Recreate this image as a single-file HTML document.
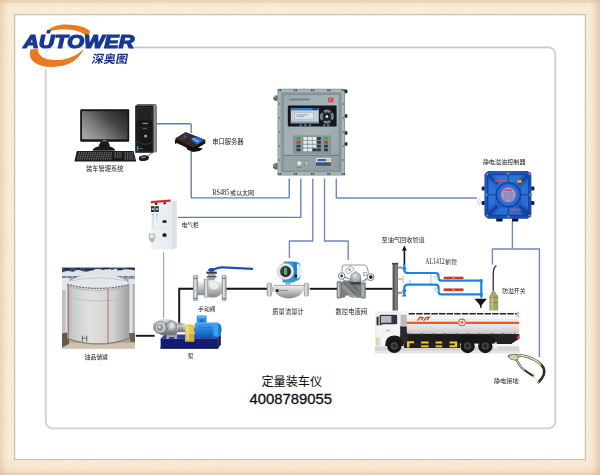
<!DOCTYPE html>
<html><head><meta charset="utf-8"><title>diagram</title><style>
html,body{margin:0;padding:0;background:#fff}
body{width:600px;height:475px;overflow:hidden;font-family:"Liberation Sans",sans-serif}
svg{display:block}
</style></head><body>
<svg width="600" height="475" viewBox="0 0 600 475">
<defs>
<linearGradient id="gL" x1="0" x2="1" y1="0" y2="0"><stop offset="0" stop-color="#dbb288" stop-opacity=".48"/><stop offset=".3" stop-color="#dbb288" stop-opacity=".2"/><stop offset=".62" stop-color="#dbb288" stop-opacity="0"/><stop offset="1" stop-color="#dbb288" stop-opacity=".07"/></linearGradient>
<linearGradient id="gR" x1="0" x2="1" y1="0" y2="0"><stop offset="0" stop-color="#dbb288" stop-opacity=".08"/><stop offset=".25" stop-color="#dbb288" stop-opacity="0"/><stop offset=".55" stop-color="#dbb288" stop-opacity=".16"/><stop offset="1" stop-color="#dbb288" stop-opacity=".62"/></linearGradient>
<linearGradient id="gT" x1="0" x2="0" y1="0" y2="1"><stop offset="0" stop-color="#dbb288" stop-opacity=".34"/><stop offset=".1" stop-color="#dbb288" stop-opacity=".5"/><stop offset=".24" stop-color="#dbb288" stop-opacity=".13"/><stop offset=".55" stop-color="#dbb288" stop-opacity="0"/><stop offset="1" stop-color="#dbb288" stop-opacity=".07"/></linearGradient>
<linearGradient id="gB" x1="0" x2="0" y1="0" y2="1"><stop offset="0" stop-color="#dbb288" stop-opacity=".04"/><stop offset=".4" stop-color="#dbb288" stop-opacity=".07"/><stop offset=".7" stop-color="#dbb288" stop-opacity=".2"/><stop offset="1" stop-color="#dbb288" stop-opacity=".58"/></linearGradient>
<filter id="nz" x="0" y="0" width="100%" height="100%"><feTurbulence type="fractalNoise" baseFrequency=".55 .9" numOctaves="2" seed="7" result="t"/><feColorMatrix type="matrix" values="0 0 0 0 .78  0 0 0 0 .62  0 0 0 0 .40  1.7 1.0 0 0 -1.14"/></filter>
<filter id="b3" x="-5%" y="-5%" width="110%" height="110%"><feGaussianBlur stdDeviation="0.3"/></filter>
<filter id="b4" x="-5%" y="-5%" width="110%" height="110%"><feGaussianBlur stdDeviation="0.45"/></filter>
<filter id="b6" x="-5%" y="-5%" width="110%" height="110%"><feGaussianBlur stdDeviation="0.6"/></filter>
<filter id="b10" x="-10%" y="-10%" width="120%" height="120%"><feGaussianBlur stdDeviation="1"/></filter>
</defs>
<rect width="600" height="475" fill="#faf0de"/>
<rect x="0" y="0" width="600" height="15" fill="url(#gT)"/>
<rect x="0" y="459.5" width="600" height="15.5" fill="url(#gB)"/>
<rect x="0" y="0" width="15" height="475" fill="url(#gL)"/>
<rect x="585" y="0" width="15" height="475" fill="url(#gR)"/>
<rect width="600" height="475" filter="url(#nz)" opacity=".36"/>
<rect x="14.2" y="14.2" width="571.6" height="445.9" fill="#c3b9a6"/>
<rect x="15.2" y="15.2" width="569.6" height="443.9" fill="#fff"/>
<rect x="46" y="47.6" width="509" height="380.4" rx="6.5" fill="none" stroke="#e4e4e4" stroke-width="3" filter="url(#b6)"/>
<rect x="46" y="47.6" width="509" height="380.4" rx="6.5" fill="#fff" stroke="#c8c8c8" stroke-width="1.2"/>
<rect x="40" y="40" width="94" height="30" fill="#fff" opacity=".55"/>
<g filter="url(#b3)">
<path d="M45.5,32.8 C50,27 58,24.5 66,24.5 C76,24.7 85.5,26.8 89.8,30.8 C90.2,33.4 88.8,35 86.4,36 C83,32.2 76,29.8 67.5,29.4 C59,29 51,30.2 45.5,32.8Z" fill="#e87a20"/>
<path d="M30.8,49.2 C28.4,54 29.8,59.6 36,63.4 C43,67.4 54,67.8 63.5,65.6 C72.5,63.4 80.6,57 83.8,48.8 C79.5,53.8 72,57.8 63.5,59.4 C54,61 46,59.8 42,56.8 C38.8,54.4 37.8,52 38.2,49.2Z" fill="#e87a20"/>
<g transform="translate(23.2,48.2) scale(1.2,1)"><text x="0" y="0" font-family="Liberation Sans, sans-serif" font-weight="bold" font-style="italic" font-size="18" fill="#1a3894" stroke="#1a3894" stroke-width="1.25" stroke-linejoin="miter" letter-spacing="0">AUTOWER</text></g>
<polygon points="47.2,30 50.9,30 50.1,33.4 46.4,33.4" fill="#1a3894"/>
<text x="0" y="0" font-family="'Liberation Sans','Noto Sans CJK SC',sans-serif" font-weight="bold" font-size="11.4" fill="#1a3292" textLength="34.3" lengthAdjust="spacingAndGlyphs" transform="translate(91.2,63.2) skewX(-10) scale(1.05,1)">深奥图</text>
</g>
<g fill="none" stroke="#5f7dba" stroke-width="1.35" stroke-linejoin="round" filter="url(#b3)">
<path d="M155.5,123.7 H190.2 Q191.2,123.7 191.2,124.7 V133"/>
<path d="M191.2,150.5 V197.8 H289.2 V178.6"/>
<path d="M178,217.4 H300.8 V178.6"/>
</g>
<g fill="none" stroke="#7488c0" stroke-width="1.4" stroke-linejoin="round" filter="url(#b3)">
<path d="M312.8,178.6 V241 H289.4 V258"/>
<path d="M324.5,178.6 V241 H348.2 V260"/>
<path d="M336.3,178.6 V198 H477"/>
<path d="M512.4,221 V249"/>
<path d="M492.4,264.5 V249 H539.4 V357"/>
<path d="M163.6,252.2 V318.5" stroke="#8ea2d4" stroke-width="1.1"/>
</g>
<g fill="none" stroke="#151515" stroke-width="1.9" filter="url(#b3)">
<path d="M135.8,335.8 H154.6"/>
<path d="M179.2,323.4 V288.8 H193.6"/>
<path d="M226.2,288.8 H267"/>
<path d="M309.8,288.8 H337"/>
<path d="M365,288.8 H392.5"/>
</g>
<defs>
<linearGradient id="scr" x1="0" y1=".75" x2="1" y2=".1"><stop offset="0" stop-color="#a2a2a2"/><stop offset=".3" stop-color="#7c7c7c"/><stop offset=".65" stop-color="#444"/><stop offset="1" stop-color="#262626"/></linearGradient>
<linearGradient id="twr" x1="0" y1="0" x2="1" y2="0"><stop offset="0" stop-color="#1c1c1c"/><stop offset=".78" stop-color="#131313"/><stop offset=".84" stop-color="#4a4a4a"/><stop offset=".9" stop-color="#a0a0a0"/><stop offset="1" stop-color="#5c5c5c"/></linearGradient>
<linearGradient id="tankb" x1="0" y1="0" x2="1" y2="0"><stop offset="0" stop-color="#aeb0b0"/><stop offset=".1" stop-color="#cccecd"/><stop offset=".38" stop-color="#e0e1df"/><stop offset=".75" stop-color="#cfd0cf"/><stop offset="1" stop-color="#9c9e9f"/></linearGradient>
<linearGradient id="sky" x1="0" y1="0" x2="0" y2="1"><stop offset="0" stop-color="#6f83a4"/><stop offset=".5" stop-color="#a9b4c2"/><stop offset="1" stop-color="#c9c6bd"/></linearGradient>
<linearGradient id="silv" x1="0" y1="0" x2="0" y2="1"><stop offset="0" stop-color="#f2f2f2"/><stop offset=".45" stop-color="#c4c6c8"/><stop offset="1" stop-color="#84888c"/></linearGradient>
<linearGradient id="silvh" x1="0" y1="0" x2="1" y2="0"><stop offset="0" stop-color="#8a8e92"/><stop offset=".4" stop-color="#eeeeee"/><stop offset="1" stop-color="#8a8e92"/></linearGradient>
<linearGradient id="pmp" x1="0" y1="0" x2="0" y2="1"><stop offset="0" stop-color="#e2e3e4"/><stop offset=".45" stop-color="#aeb1b4"/><stop offset="1" stop-color="#6c7074"/></linearGradient>
<linearGradient id="mot" x1="0" y1="0" x2="0" y2="1"><stop offset="0" stop-color="#52aef4"/><stop offset=".5" stop-color="#2586e0"/><stop offset="1" stop-color="#155cb0"/></linearGradient>
<linearGradient id="ctl" x1="0" y1="0" x2="1" y2="1"><stop offset="0" stop-color="#9aa9ad"/><stop offset=".5" stop-color="#a6b4b7"/><stop offset="1" stop-color="#93a2a6"/></linearGradient>
<radialGradient id="esc" cx=".45" cy=".4" r=".75"><stop offset="0" stop-color="#2f74dc"/><stop offset=".6" stop-color="#1b5ac4"/><stop offset="1" stop-color="#1546a6"/></radialGradient>
<linearGradient id="tk" x1="0" y1="0" x2="0" y2="1"><stop offset="0" stop-color="#fafafa"/><stop offset=".55" stop-color="#f0f0f0"/><stop offset="1" stop-color="#c9c9c9"/></linearGradient>
<linearGradient id="pole" x1="0" y1="0" x2="1" y2="0"><stop offset="0" stop-color="#4a4a4a"/><stop offset=".3" stop-color="#5c5c5c"/><stop offset=".7" stop-color="#8e8e8e"/><stop offset="1" stop-color="#3a3a3a"/></linearGradient>
<linearGradient id="cab" x1="0" y1="0" x2="1" y2="0"><stop offset="0" stop-color="#eef3f5"/><stop offset="1" stop-color="#e6ecee"/></linearGradient>
</defs>
<g filter="url(#b3)">
<polygon points="135.4,105.8 137.4,104 156,104 156.8,105.8" fill="#6a6a6a"/>
<rect x="135.2" y="105.6" width="21.6" height="47" rx="1" fill="url(#twr)"/>
<path d="M137,120.6 V109.6 Q137,107.4 139.2,107.4 H150 Q152,107.4 152,109.6 V120.6" fill="#242424" stroke="#4a4a4a" stroke-width=".5"/>
<rect x="142.6" y="122.8" width="5.4" height="1.3" fill="#8a8a8a"/>
<rect x="139.4" y="127.4" width="10.6" height="2" rx=".6" fill="#050505" stroke="#4c4c4c" stroke-width=".4"/>
<rect x="142.4" y="128" width="4.6" height=".8" fill="#6c6c6c"/>
<circle cx="145.6" cy="136" r="1.6" fill="#9a9a9a"/>
<path d="M136.6,141 Q145,147.4 153,141.6" stroke="#3c3c3c" stroke-width=".9" fill="none"/>
<rect x="136.8" y="146" width="1.6" height="4.6" fill="#2f8fd0"/>
<rect x="139.4" y="148" width="3.4" height="1" fill="#6c6c6c"/>
<rect x="135.2" y="151.6" width="18" height="1.2" fill="#3a3a3a"/>
<rect x="80.2" y="109.3" width="49" height="32.5" rx="1" fill="#151515"/>
<rect x="82" y="111.1" width="45.6" height="28.2" fill="url(#scr)"/>
<polygon points="100.8,141.6 108.2,141.6 110.2,146.6 98.4,146.6" fill="#1a1a1a"/>
<path d="M92.4,150.8 Q93,146.4 104,145.6 Q114.6,146.4 115.2,150.8Z" fill="#1a1a1a"/>
<rect x="102.8" y="140" width="3.4" height=".9" fill="#8a8a8a"/>
<polygon points="76.8,151 133.6,151 136.2,161.5 74.4,161.5" fill="#1a1a1a"/>
<g stroke="#767676" stroke-width="1.1" stroke-dasharray="1.4 .9"><path d="M78.6,152.9 H112"/><path d="M78.2,154.9 H112"/><path d="M77.6,156.9 H112"/><path d="M77,158.9 H112"/><path d="M114.6,152.9 H122"/><path d="M114.6,154.9 H122"/><path d="M114.6,156.9 H122"/><path d="M124.6,152.9 H133.2"/><path d="M124.6,154.9 H133.8"/><path d="M124.6,156.9 H134.2"/><path d="M124.6,158.9 H134.8"/></g>
<path d="M148,155.6 q3,-2 5,-3" stroke="#333" stroke-width=".6" fill="none"/>
<ellipse cx="143.9" cy="158.1" rx="5.1" ry="2.8" fill="#151515" transform="rotate(-6 143.9 158.1)"/>
<ellipse cx="143.4" cy="157.4" rx="3" ry="1.1" fill="#6a6a6a" transform="rotate(-6 143.4 157.4)"/>
</g>
<g filter="url(#b3)">
<polygon points="175.4,138.4 185.6,132.3 205.3,140 205.3,143.4 193,150.8 175.6,142.6" fill="#1d1311"/>
<polygon points="186.4,145.2 203,148.6 199.4,151 193,152 187,149.4" fill="#151010"/>
<polygon points="175.4,138.4 185.6,132.3 205.3,140 193,147.4" fill="#3a2826"/>
<polygon points="177.4,138.4 185.6,133.5 191,135.6 182.6,140.6" fill="#46302e"/>
<polygon points="190.6,139.2 196.9,136.3 203.9,139.9 197,144.7" fill="#2468cc"/>
<polygon points="191.6,138.6 193.4,137.8 199.6,141.6 198,142.6" fill="#7cb4ee"/>
<circle cx="185" cy="136.6" r="1.5" fill="#2454c4"/>
<polygon points="174.8,140.6 176.2,140 176.6,143.6 175.2,144" fill="#111"/>
</g>
<g filter="url(#b3)">
<rect x="277.5" y="88.8" width="67.6" height="86.6" rx="1.2" fill="#7f8f93"/>
<rect x="278.3" y="89.4" width="66" height="85.4" rx="1" fill="#a9b7b9"/>
<rect x="280.6" y="92" width="61.4" height="80.4" fill="#8b9b9f"/>
<rect x="283.2" y="94.6" width="56" height="76.2" fill="url(#ctl)" stroke="#74848a" stroke-width=".7"/>
<rect x="278.1" y="89.6" width="1.2" height="1.5" fill="#2f393b"/><rect x="279.90000000000003" y="89.6" width="1.2" height="1.5" fill="#2f393b"/>
<rect x="278.1" y="173.2" width="1.2" height="1.5" fill="#2f393b"/><rect x="279.90000000000003" y="173.2" width="1.2" height="1.5" fill="#2f393b"/>
<rect x="293.9" y="89.6" width="1.2" height="1.5" fill="#2f393b"/><rect x="295.7" y="89.6" width="1.2" height="1.5" fill="#2f393b"/>
<rect x="293.9" y="173.2" width="1.2" height="1.5" fill="#2f393b"/><rect x="295.7" y="173.2" width="1.2" height="1.5" fill="#2f393b"/>
<rect x="311.1" y="89.6" width="1.2" height="1.5" fill="#2f393b"/><rect x="312.90000000000003" y="89.6" width="1.2" height="1.5" fill="#2f393b"/>
<rect x="311.1" y="173.2" width="1.2" height="1.5" fill="#2f393b"/><rect x="312.90000000000003" y="173.2" width="1.2" height="1.5" fill="#2f393b"/>
<rect x="327.3" y="89.6" width="1.2" height="1.5" fill="#2f393b"/><rect x="329.1" y="89.6" width="1.2" height="1.5" fill="#2f393b"/>
<rect x="327.3" y="173.2" width="1.2" height="1.5" fill="#2f393b"/><rect x="329.1" y="173.2" width="1.2" height="1.5" fill="#2f393b"/>
<rect x="341.9" y="89.6" width="1.2" height="1.5" fill="#2f393b"/><rect x="343.7" y="89.6" width="1.2" height="1.5" fill="#2f393b"/>
<rect x="341.9" y="173.2" width="1.2" height="1.5" fill="#2f393b"/><rect x="343.7" y="173.2" width="1.2" height="1.5" fill="#2f393b"/>
<circle cx="279.4" cy="104" r=".7" fill="#4c585b"/><circle cx="343.4" cy="104" r=".7" fill="#4c585b"/>
<circle cx="279.4" cy="118" r=".7" fill="#4c585b"/><circle cx="343.4" cy="118" r=".7" fill="#4c585b"/>
<circle cx="279.4" cy="132" r=".7" fill="#4c585b"/><circle cx="343.4" cy="132" r=".7" fill="#4c585b"/>
<circle cx="279.4" cy="146" r=".7" fill="#4c585b"/><circle cx="343.4" cy="146" r=".7" fill="#4c585b"/>
<circle cx="279.4" cy="160" r=".7" fill="#4c585b"/><circle cx="343.4" cy="160" r=".7" fill="#4c585b"/>
<path d="M277.6,95.4 h-2.6 l-1.6,1.6 v2.6 l1.6,1.2 h2.6Z" fill="#5d696c"/><path d="M273.6,96 l2.6,1.6" stroke="#d4dadb" stroke-width=".7"/>
<path d="M277.6,163.2 h-2.6 l-2,1.6 v3 l2,1.6 h2.6Z" fill="#5d696c"/><path d="M273,164.4 l3,2" stroke="#d4dadb" stroke-width=".7"/>
<rect x="344.8" y="89.60000000000001" width="2.6" height="3.6" rx=".8" fill="#242a2c"/>
<rect x="344.8" y="114.2" width="2.6" height="3.6" rx=".8" fill="#242a2c"/>
<rect x="344.8" y="131.2" width="2.6" height="3.6" rx=".8" fill="#242a2c"/>
<rect x="344.8" y="142.2" width="2.6" height="3.6" rx=".8" fill="#242a2c"/>
<rect x="289.4" y="98.6" width="20.6" height="1.7" fill="#64767e" opacity=".85"/>
<rect x="328.2" y="97.4" width="5.2" height="4.8" rx=".8" fill="#cc3a36"/><path d="M329.4,98.6 h1.8 M329.4,99.8 h1.4 M329.4,101 h1.8 M331.8,99.8 l1.2,1.4" stroke="#f4dcd8" stroke-width=".55"/>
<rect x="287.8" y="105.4" width="48.8" height="21.2" rx="1.2" fill="#15191d"/>
<rect x="290.8" y="108" width="28" height="15.2" fill="#c3d0d8"/>
<rect x="290.8" y="108" width="28" height="2.4" fill="#3b7ec6"/>
<rect x="312.4" y="108.4" width="5" height="1.6" fill="#27394a"/>
<rect x="294.6" y="112.6" width="18.6" height="6.4" fill="#dfe8ec" stroke="#8fa4b4" stroke-width=".4"/>
<rect x="296.4" y="114.4" width="12" height=".9" fill="#8397a8"/><rect x="296.4" y="116.2" width="8" height=".8" fill="#8397a8"/>
<rect x="290.8" y="121.2" width="28" height="2" fill="#8fa6ba"/>
<circle cx="326.9" cy="116.6" r="7" fill="#1e2428"/>
<circle cx="326.9" cy="116.6" r="5.6" fill="none" stroke="#74808a" stroke-width="2.6" stroke-dasharray="6.6 2.2" transform="rotate(-38 326.9 116.6)"/>
<circle cx="326.9" cy="116.6" r="1.3" fill="#eef2f4"/>
<rect x="299.6" y="124.6" width="2" height="1" fill="#c9d1d5"/>
<rect x="304.3" y="124.6" width="2" height="1" fill="#c9d1d5"/>
<rect x="309" y="124.6" width="2" height="1" fill="#c9d1d5"/>
<rect x="323.3" y="124.6" width="2" height="1" fill="#c9d1d5"/>
<rect x="327.2" y="124.6" width="2" height="1" fill="#c9d1d5"/>
<rect x="292.8" y="135.4" width="38.4" height="18.6" fill="#86969a"/>
<rect x="296.4" y="137.05" width="4" height="2.9" rx=".7" fill="#35ad52"/>
<rect x="303.3" y="137.05" width="4" height="2.9" rx=".7" fill="#e6ecee"/>
<rect x="308" y="137.05" width="4" height="2.9" rx=".7" fill="#e6ecee"/>
<rect x="312.5" y="137.05" width="4" height="2.9" rx=".7" fill="#e6ecee"/>
<rect x="316.9" y="137.05" width="4" height="2.9" rx=".7" fill="#333c3e"/>
<rect x="324" y="137.05" width="4" height="2.9" rx=".7" fill="#35ad52"/>
<rect x="296.4" y="140.85000000000002" width="4" height="2.9" rx=".7" fill="#d5382f"/>
<rect x="303.3" y="140.85000000000002" width="4" height="2.9" rx=".7" fill="#e6ecee"/>
<rect x="308" y="140.85000000000002" width="4" height="2.9" rx=".7" fill="#e6ecee"/>
<rect x="312.5" y="140.85000000000002" width="4" height="2.9" rx=".7" fill="#e6ecee"/>
<rect x="316.9" y="140.85000000000002" width="4" height="2.9" rx=".7" fill="#333c3e"/>
<rect x="324" y="140.85000000000002" width="4" height="2.9" rx=".7" fill="#d5382f"/>
<rect x="296.4" y="144.65" width="4" height="2.9" rx=".7" fill="#333c3e"/>
<rect x="303.3" y="144.65" width="4" height="2.9" rx=".7" fill="#e6ecee"/>
<rect x="308" y="144.65" width="4" height="2.9" rx=".7" fill="#e6ecee"/>
<rect x="312.5" y="144.65" width="4" height="2.9" rx=".7" fill="#e6ecee"/>
<rect x="316.9" y="144.65" width="4" height="2.9" rx=".7" fill="#333c3e"/>
<rect x="324" y="144.65" width="4" height="2.9" rx=".7" fill="#333c3e"/>
<rect x="296.4" y="148.45000000000002" width="4" height="2.9" rx=".7" fill="#333c3e"/>
<rect x="303.3" y="148.45000000000002" width="4" height="2.9" rx=".7" fill="#e6ecee"/>
<rect x="308" y="148.45000000000002" width="4" height="2.9" rx=".7" fill="#e6ecee"/>
<rect x="312.5" y="148.45000000000002" width="4" height="2.9" rx=".7" fill="#333c3e"/>
<rect x="316.9" y="148.45000000000002" width="4" height="2.9" rx=".7" fill="#333c3e"/>
<rect x="324" y="148.45000000000002" width="4" height="2.9" rx=".7" fill="#333c3e"/>
<rect x="283.4" y="155.4" width="55.6" height="15.2" fill="#8d9b9f" opacity=".6"/>
<path d="M283.2,155.3 H339.2" stroke="#66767a" stroke-width=".9"/>
<rect x="296.6" y="160.4" width="5.4" height="5.8" rx=".6" fill="#b7c1c3" stroke="#6f7c80" stroke-width=".4"/><rect x="298" y="162" width="2.6" height="2.6" fill="#eef1f2"/>
<rect x="304.8" y="160.8" width="4" height="5" fill="#a7b2b5" stroke="#75828a" stroke-width=".4"/>
<rect x="297" y="167.2" width="4.6" height=".7" fill="#b85048"/>
<rect x="316" y="158" width="14.8" height="4.2" fill="#dfe6ec"/><rect x="317.4" y="159" width="8.6" height="2.2" fill="#2a62bc"/><rect x="326.6" y="159" width="3" height="2.2" fill="#e8a030" opacity=".7"/>
<rect x="316" y="162.4" width="14.8" height="3.4" fill="#3f5476"/>
</g>
<g filter="url(#b4)">
<rect x="496.2" y="217.8" width="6.4" height="3.7" rx=".8" fill="#10182c"/><rect x="512" y="217.8" width="6.4" height="3.7" rx=".8" fill="#10182c"/>
<rect x="530.6" y="186.4" width="3.8" height="4" rx="1" fill="#18244a"/><rect x="530.6" y="201" width="3.8" height="4" rx="1" fill="#18244a"/>
<rect x="481.6" y="186.4" width="3.8" height="4" rx="1" fill="#18244a"/><rect x="481.6" y="201" width="3.8" height="4" rx="1" fill="#18244a"/>
<path d="M488,171 h39.8 l3.6,3.6 v40.6 l-3.6,3.6 h-39.8 l-3.6,-3.6 v-40.6Z" fill="url(#esc)"/>
<path d="M494,175.4 h28.6 l-6.4,6.6 h-15.8Z M494,214.4 h28.6 l-6.4,-6.6 h-15.8Z M488.6,180.6 v28.6 l6.6,-6.4 v-15.8Z M528,180.6 v28.6 l-6.6,-6.4 v-15.8Z" fill="#3a80e2" opacity=".55"/>
<rect x="487.6" y="174.2" width="41.4" height="41.4" rx="3.4" fill="none" stroke="#123c94" stroke-width="1"/>
<path d="M486,172.6 L497.4,184 M530.6,172.6 L519.2,184 M486,217.2 L497.4,205.8 M530.6,217.2 L519.2,205.8" stroke="#113a92" stroke-width="1.7"/>
<path d="M508.3,171.6 V182 M508.3,207.6 V218 M484.6,194.8 H495.6 M521,194.8 H532" stroke="#154298" stroke-width="1.1"/>
<circle cx="508.3" cy="194.8" r="12.4" fill="#1d55bc" stroke="#123c94" stroke-width="1"/>
<circle cx="508.3" cy="194.8" r="10" fill="#2a68d2" stroke="#5a94f0" stroke-width=".5"/>
<circle cx="508.3" cy="194.8" r="7.7" fill="#9c8cb8"/>
<circle cx="508.3" cy="194.8" r="6" fill="#b7aacc"/>
<path d="M503.6,193 h9.4 M503.4,195 h9.8 M503.6,197 h9.4 M504.6,199 h7.4" stroke="#5866b6" stroke-width="1.1"/>
<path d="M506,192 v7.6 M508.3,192 v7.6 M510.6,192 v7.6" stroke="#b7aacc" stroke-width=".5"/>
<rect x="504.6" y="189.6" width="7.4" height="1.7" fill="#c2505e"/>
<circle cx="487.4" cy="174.2" r="1.1" fill="#b48e78"/>
<circle cx="529.4" cy="174.2" r="1.1" fill="#b48e78"/>
<circle cx="487.4" cy="215.6" r="1.1" fill="#b48e78"/>
<circle cx="529.4" cy="215.6" r="1.1" fill="#b48e78"/>
<circle cx="508.3" cy="173.4" r="1.1" fill="#b48e78"/>
<circle cx="508.3" cy="216.4" r="1.1" fill="#b48e78"/>
<circle cx="486.4" cy="194.8" r="1.1" fill="#b48e78"/>
<circle cx="530.2" cy="194.8" r="1.1" fill="#b48e78"/>
<rect x="494.6" y="180" width="10.6" height="1.6" fill="#c4506c"/>
<rect x="510.2" y="208.8" width="10.4" height="1.6" fill="#c4506c"/>
<rect x="517.4" y="180" width="4.2" height="2.9" fill="#f2a21e"/>
<path d="M477.6,199.6 q1.6,2.2 0,4.4 M479.4,198.6 q2.4,3.2 0,6.4" stroke="#aeb6c2" stroke-width=".7" fill="none"/>
</g>
<g filter="url(#b3)">
<polygon points="172,201.4 176.8,200.2 176.8,247.4 172,249.6" fill="#dbe2e5"/>
<polygon points="151.2,202.6 172,201.2 172,249.6 151.2,249.6" fill="url(#cab)"/>
<polygon points="151,201 170.6,199.6 170.6,201.8 151,203.3" fill="#e42426"/>
<rect x="155" y="203" width="2.4" height="1.8" fill="#2a2226"/><rect x="163.4" y="202.4" width="2.6" height="1.8" fill="#2a2226"/>
<path d="M151.2,228 H172" stroke="#d5dcdf" stroke-width=".5"/>
<rect x="151" y="206.2" width="3.6" height="5.8" fill="#2c3036"/><rect x="155.2" y="206.2" width="3.6" height="5.8" fill="#2c3036"/>
<rect x="151.6" y="208.4" width="2.4" height="1.4" fill="#e4e4e4"/><rect x="155.8" y="208.4" width="2.4" height="1.4" fill="#e4e4e4"/>
<path d="M153,213 V227 M157,213 V222" stroke="#c2ccd6" stroke-width=".8"/>
<circle cx="153" cy="214.6" r=".7" fill="#6a9ae0"/><circle cx="157" cy="214.6" r=".7" fill="#6a9ae0"/>
<rect x="162.6" y="220.3" width="3.8" height="2.5" fill="#15171a"/>
<path d="M162.6,236.7 v-2.6 l1.9,-1 l1.9,1 v2.6Z" fill="#15171a"/>
<path d="M148.8,233.6 h5.6 l.8,1.6 v3.4 l-1.8,3.6 h-2.8 l-1.8,-3.6Z" fill="#b6babd"/>
<path d="M150,234.6 h3.6 v3 h-3.6Z" fill="#eef0f1"/>
</g>
<g filter="url(#b4)">
<clipPath id="tkc"><rect x="62" y="267.4" width="73" height="81"/></clipPath>
<g clip-path="url(#tkc)">
<rect x="62" y="267.4" width="73" height="81" fill="#c4c8cc"/>
<rect x="62" y="267.4" width="73" height="24" fill="#8e9aae"/>
<rect x="62" y="267.4" width="73" height="6.4" fill="#3c4a66"/>
<path d="M62,272.6 q5,-3 11,-.6 q4,-3.400000000000034 9,-1 q5,1.6 9,-.4 q6,-3 12,-.6 q5,-2.399999999999977 9,0 q5,-2.600000000000023 10,0 q5,-2 13,.6 v6 h-73Z" fill="#dfe4ea"/>
<path d="M64,269 h6 M76,268.4 h4 M85,269.6 h9 M102,268.4 h7 M117,269.6 h5 M127,268.6 h7" stroke="#1f2b46" stroke-width="1.5"/>
<path d="M62,276.8 h73" stroke="#56647e" stroke-width="1.3" stroke-dasharray="4 1.6"/>
<rect x="62" y="277.6" width="73" height="8" fill="#a4aebc" opacity=".7"/>
<rect x="62" y="278" width="7.6" height="59" fill="#e4e6e6"/>
<rect x="62" y="290" width="3.6" height="46" fill="#bcc0c4"/>
<rect x="128.4" y="279" width="6.6" height="60" fill="#e2e4e4"/>
<rect x="132.4" y="284" width="2.6" height="54" fill="#b4b8bc"/>
<rect x="62" y="333" width="73" height="16" fill="#b9a992"/>
<rect x="62" y="343" width="73" height="5.4" fill="#cfc2ae"/>
<path d="M62,333.6 l7,-1.600000000000023 v12 l-7,3.6Z" fill="#64584a"/>
<path d="M128.6,333 h6.4 v9 h-4.4Z" fill="#6c5e50"/>
<path d="M67.2,284.6 V338.4 Q98.3,349.4 129.4,338.4 V284.6Z" fill="url(#tankb)"/>
<path d="M67.2,284.8 Q72,276.6 90,274.6 Q98.3,273.8 107,274.6 Q125,276.6 129.4,284.8 Q98.3,292.8 67.2,284.8Z" fill="#e4e7ea"/>
<path d="M72,280.6 Q98.3,275 125,280.6" fill="none" stroke="#b7bcc2" stroke-width=".7"/>
<path d="M67.2,284.4 Q98.3,292.4 129.4,284.4" fill="none" stroke="#6f7478" stroke-width="1.2" stroke-dasharray="2.2 .8"/>
<path d="M67.2,286.6 Q98.3,294.6 129.4,286.6" fill="none" stroke="#a9adb0" stroke-width=".8"/>
<path d="M67.2,297.2 Q98.3,305 129.4,297.2" fill="none" stroke="#b4b6b4" stroke-width=".6"/>
<path d="M68.3,285.4 V339.6 M108,288.8 V344" stroke="#b0645c" stroke-width=".9"/>
<path d="M67.2,338.4 Q98.3,349.4 129.4,338.4" fill="none" stroke="#80786a" stroke-width="1.1"/>
<path d="M82.4,335.6 v6 M86.8,335.6 v6 M82.4,338.2 h4.4" stroke="#4c4c4c" stroke-width=".8"/>
</g></g>
<g filter="url(#b4)">
<polygon points="160.6,338.8 164.6,334.6 220.8,334.6 218.2,338.8" fill="#2c3aa2"/>
<rect x="160.6" y="338.6" width="57.6" height="10" fill="#171f70"/>
<polygon points="218.2,338.6 220.8,334.6 220.8,344.6 218.2,348.6" fill="#10174e"/>
<rect x="160.6" y="346.8" width="57.6" height="1.8" fill="#0d1446"/>
<path d="M166.4,334 h10.6 v5 h-2.6 v-2 h-5.4 v2 h-2.6Z" fill="#a9adb3"/>
<path d="M152.8,327 q-.4,-4.4 4,-6 l6,-2 q5,-1.2 9,1.2 l5,3 h8 v8.6 h-7 l-2,3.4 h-14.6 l-3,-2.4 q-5,-1 -5.4,-5.800000000000001Z" fill="url(#pmp)"/>
<ellipse cx="160.6" cy="327.4" rx="5.6" ry="6" fill="#c4c7ca" stroke="#74787c" stroke-width=".7"/>
<ellipse cx="160" cy="327.6" rx="3" ry="3.4" fill="#8e9398"/>
<ellipse cx="159.4" cy="326.8" rx="1.4" ry="1.6" fill="#d4d7da"/>
<ellipse cx="171.4" cy="326" rx="5" ry="5.2" fill="#b4b8bc" stroke="#6e7276" stroke-width=".7"/>
<ellipse cx="171.8" cy="325.4" rx="2.4" ry="2.6" fill="#dcdee0"/>
<path d="M165.6,322 l2,8 M156,333 h18" stroke="#6a6e72" stroke-width=".7"/>
<rect x="176.6" y="322.6" width="5" height="3" fill="#9ea2a6"/>
<rect x="177" y="325.6" width="8.6" height="6.6" fill="url(#pmp)"/>
<path d="M179.4,326.4 v5.4 M182,326.4 v5.4" stroke="#5c6064" stroke-width=".7"/>
<path d="M185,327 q0,-2.4 2.4,-2.4 h4.4 q2.4,0 2.4,2.4 v14.4 h-9.2Z" fill="#dccb4e"/>
<path d="M185,334 h9.2 v7.400000000000034 h-9.2Z" fill="#c4b03a"/>
<rect x="186.2" y="326" width="3" height="14" fill="#efe59a" opacity=".6"/>
<rect x="194" y="327.6" width="1.8" height="4.4" fill="#d8582a"/>
<rect x="196.8" y="315.4" width="9.8" height="8.4" rx=".8" fill="#2c8ee6"/>
<rect x="197.8" y="316.2" width="7.8" height="2" fill="#62b4f6"/>
<rect x="200.4" y="319.4" width="2.8" height="2.8" fill="#1a62b8"/>
<rect x="194.6" y="322.6" width="24.4" height="14.4" rx="2.4" fill="url(#mot)"/>
<path d="M198,325 h14 M198,327.4 h14 M198,329.8 h14 M198,332.2 h14 M198,334.6 h14" stroke="#1862b8" stroke-width=".6" opacity=".8"/>
<path d="M213.6,322.8 h4 q3.8,.6 3.8,7 t-3.8,7 h-4Z" fill="#3aa2f0"/>
<path d="M218.4,323.6 q3,1 3,6.2 t-3,6.2Z" fill="#1c74cc"/>
<rect x="197.6" y="336.4" width="4.4" height="2.6" fill="#1b5eb2"/><rect x="211" y="336.4" width="4.4" height="2.6" fill="#1b5eb2"/>
</g>
<g filter="url(#b3)">
<path d="M209.6,270.2 Q214,269.6 217,268.2 Q219.6,267.2 223,267.3 L252.2,268.8" fill="none" stroke="#224cb4" stroke-width="2.3" stroke-linecap="round"/>
<ellipse cx="211.4" cy="269.8" rx="3" ry="1.9" fill="#1e44a6"/>
<rect x="206.4" y="271.6" width="10.4" height="2.2" fill="#34383e"/>
<rect x="207.8" y="273.8" width="7.6" height="2.4" fill="#a6aab0"/>
<rect x="206.8" y="276" width="9.6" height="1.6" fill="#4c5056"/>
<rect x="208.4" y="277.6" width="6.4" height="3.4" fill="#9ca0a6"/>
<rect x="197.4" y="281.6" width="7.4" height="13.6" fill="url(#silv)"/>
<rect x="204.2" y="278.8" width="4.2" height="18.6" rx=".8" fill="url(#silvh)" stroke="#7c8186" stroke-width=".4"/>
<path d="M208.2,280.6 q7,-1.6 10.400000000000006,1 q3,1.8 3.6,3.4 v7.6 q-.6,1.6 -3.6,3.4 q-3.4,2.6 -10.4,1Z" fill="url(#silv)"/>
<ellipse cx="214" cy="286" rx="4.6" ry="3.4" fill="#f4f5f6" opacity=".8"/>
<rect x="193.4" y="275.2" width="4.2" height="25.6" rx="1" fill="url(#silvh)" stroke="#7f8488" stroke-width=".5"/>
<rect x="222" y="275.2" width="4.2" height="25.6" rx="1" fill="url(#silvh)" stroke="#7f8488" stroke-width=".5"/>
<path d="M194.2,278.4 h2.600000000000023 M194.2,298.6 h2.6 M222.8,278.4 h2.6 M222.8,298.6 h2.6" stroke="#4c5054" stroke-width=".9"/>
</g>
<g filter="url(#b3)">
<rect x="267" y="283" width="4.6" height="13.2" rx="1.4" fill="url(#silvh)" stroke="#8a8e92" stroke-width=".4"/>
<rect x="304.2" y="283" width="4.4" height="13.2" rx="1.4" fill="url(#silvh)" stroke="#8a8e92" stroke-width=".4"/>
<path d="M273.6,285.2 H304 L303.4,290 Q300,298.4 288.8,298.4 Q277.6,298.4 274.2,290Z" fill="url(#silv)"/>
<path d="M273.6,285.4 H304" stroke="#8c9094" stroke-width=".8"/>
<rect x="271.4" y="286.6" width="2.6" height="5.4" fill="#c2c5c8"/><rect x="303.6" y="286.6" width="1" height="5.4" fill="#c2c5c8"/>
<rect x="275.8" y="289.2" width="2.8" height="2.8" fill="#24282c"/><rect x="279.4" y="290" width="9" height="1" fill="#8e9296"/>
<rect x="285.4" y="281.6" width="5.4" height="4" fill="#b4b8bc"/>
<path d="M284,261.6 h9 q7,0 7.6,4 v11 q-.6,4 -5,4.400000000000034 l-2.6,1.6 h-10.4 v-3.6Z" fill="#2f9ada"/>
<path d="M296.8,263.4 q4.8,.6 4.8,7.600000000000023 t-4.8,7.6Z" fill="#e3eef6"/>
<path d="M293.4,262.4 h3.4 v16.4 h-3.4Z" fill="#1f82c4"/>
<rect x="294.6" y="274.6" width="2.6" height="2.6" fill="#20252a"/>
<circle cx="285.6" cy="271.5" r="8.3" fill="#eceef0" stroke="#9a9ea2" stroke-width=".5"/>
<circle cx="285.6" cy="271.5" r="6.4" fill="#c4c8cc"/>
<circle cx="285.6" cy="271.5" r="5.4" fill="#262b30"/>
<rect x="284" y="267.6" width="3.2" height="7.4" rx="1.2" fill="#54b25c"/>
<rect x="281.6" y="269" width="2" height="4.6" fill="#3c4a56"/>
</g>
<g filter="url(#b3)">
<path d="M342.2,272.6 V267 Q342.2,265 344.4,265 H364.4 Q366.4,265 367,267 L368.6,273" fill="none" stroke="#787c80" stroke-width=".8"/>
<path d="M345,281 Q342.4,279.4 342,278 M366.8,280 Q363,284.4 359,285.4 M349,296 q4,3 9,0" fill="none" stroke="#5f6367" stroke-width=".7"/>
<path d="M341,282.4 l3,-2 h6 l3.6,3 h5 l2.4,-1 v15.4 h-4.4 l-1.6,-2.4 h-9 l-1.6,2.4 h-3.4Z" fill="#7c7f82"/>
<path d="M344,283 l12,12 M349,281.4 l9.6,9.6" stroke="#4f5255" stroke-width="1"/>
<path d="M341.6,284.6 h3.4 l10,10.4 v2 h-4 l-9.4,-9.4Z" fill="#94979a" opacity=".8"/>
<rect x="337" y="281.4" width="4.2" height="16.8" rx=".8" fill="#8f9295" stroke="#55585b" stroke-width=".5"/>
<rect x="361.4" y="283" width="4" height="15.2" rx=".8" fill="#8f9295" stroke="#55585b" stroke-width=".5"/>
<rect x="338" y="283" width="1.4" height="13.6" fill="#c6c9cc"/><rect x="362.4" y="284.4" width="1.2" height="12.4" fill="#c6c9cc"/>
<path d="M350,281.6 l1,-7 l4.6,-3 l4.6,3 l1,7 l-5.6,2.6Z" fill="#9a9da0" stroke="#55585b" stroke-width=".5"/>
<circle cx="355.6" cy="276.6" r="4.6" fill="#b6b9bc"/><circle cx="355" cy="275.8" r="2.2" fill="#d9dbdd"/>
<path d="M349.6,282 h12 l-1.6,2.4 h-8.8Z" fill="#3c3f42"/>
<rect x="-3.8" y="-2.6" width="7.6" height="5.2" rx=".6" fill="#f0f1f2" stroke="#6c7074" stroke-width=".5" transform="translate(349.6,269.8) rotate(-40)"/>
<rect x="-1.2" y="-1" width="2.4" height="2" fill="#9a9ea2" transform="translate(349.6,269.8) rotate(-40)"/>
<circle cx="341.7" cy="276" r="3.3" fill="#f2f3f4" stroke="#5c6064" stroke-width=".7"/><circle cx="341.7" cy="276" r="1.4" fill="#3a3d40"/>
<circle cx="370.6" cy="277.1" r="3.5" fill="#f2f3f4" stroke="#4c5054" stroke-width=".7"/><circle cx="370.8" cy="277.1" r="1.8" fill="#17191b"/>
<path d="M345,277 l4.6,2 M367,278.6 l-5,3" stroke="#5c6064" stroke-width=".9"/>
<rect x="363.4" y="272.6" width="3.6" height="3.2" fill="#e4e6e8" stroke="#6c7074" stroke-width=".4"/>
</g>
<g filter="url(#b3)">
<path d="M404.4,249 V265" stroke="#161616" stroke-width="1.6"/>
<polygon points="404.4,245.6 406.9,250.6 401.9,250.6" fill="#161616"/>
<rect x="392.6" y="263.4" width="5.2" height="47.2" fill="url(#pole)"/>
<rect x="392" y="262.8" width="6.4" height="1.6" fill="#4a4a4a"/>
<rect x="397.8" y="266.6" width="4.6" height="2" fill="#8a8e92"/>
<rect x="397.8" y="278" width="4.6" height="2" fill="#c4c8cc"/>
<rect x="397.8" y="291.8" width="4.6" height="2" fill="#8a8e92"/>
<path d="M430.9,274 V285 M409.8,281 v3 M408.6,281 h2.4 M403,276 V283" stroke="#8c9096" stroke-width=".6"/>
<g fill="none" stroke="#1f82e6" stroke-width="2.2" stroke-linejoin="round" stroke-linecap="round">
<path d="M404.3,265.4 V269.4 Q404.3,273 408,273 H435.4 Q438.6,273 438.6,276.2 V277.8 Q438.6,280.7 441.4,280.7 H481.3 V297"/>
<path d="M404.3,295 V288.4 Q404.3,284.6 408,284.6 H435.4 Q438.6,284.6 438.6,287.8 V291.4 Q438.6,294.4 441.4,294.4 H481.3"/>
</g>
<polygon points="404.3,266 406.6,268.6 404.3,271.2 402,268.6" fill="#1f82e6"/><polygon points="404.3,288.2 406.6,290.8 404.3,293.4 402,290.8" fill="#1f82e6"/><polygon points="404.3,293.4 406.9,296.4 401.7,296.4" fill="#1f82e6"/>
<circle cx="481.3" cy="280.7" r="1.6" fill="#1f82e6"/><circle cx="481.3" cy="294.4" r="1.6" fill="#1f82e6"/>
<path d="M434,276 h3 l1.6,3 h-3Z M434,288 h3 l1.6,3.4 h-3Z" fill="#eef0f2" stroke="#8a8f94" stroke-width=".4"/>
<rect x="443.7" y="276.7" width="19.8" height="2.5" fill="#d6321f"/><rect x="443.7" y="288.4" width="19.8" height="2.6" fill="#d6321f"/>
<rect x="452.6" y="276.2" width="1.8" height="3.8" fill="#a4a8ac"/><rect x="452.6" y="288" width="1.8" height="3.8" fill="#a4a8ac"/>
<polygon points="474.4,298.7 486.9,298.7 481.6,305.3 481.6,307.8 480,307.8 480,305.3" fill="#161616"/>
<path d="M496.4,265.6 q-3.4,2 -3.2,10 v16" fill="none" stroke="#1b1b1b" stroke-width="1.2"/>
<path d="M491.6,291.4 h3.6 l1,2.6 q2,1 2,3 v13.4 h-8.8 v-13.4 q0,-2 1.4,-3Z" fill="#a6a466"/>
<path d="M489.6,297 h8.6 v1 h-8.6Z M489.6,302 h8.6 v.8 h-8.6Z" fill="#7c7a44"/>
<rect x="491.2" y="297" width="2" height="13.4" fill="#c9c790" opacity=".8"/>
</g>
<g filter="url(#b4)">
<clipPath id="trc"><rect x="375" y="310.8" width="144.6" height="42.6"/></clipPath>
<g clip-path="url(#trc)">
<rect x="375" y="310.8" width="144.6" height="42.6" fill="#f7f7f7"/>
<rect x="375" y="346.4" width="144.6" height="7" fill="#d4d4d4"/>
<rect x="375" y="350.6" width="144.6" height="3" fill="#e4e4e4"/>
<rect x="400" y="333.6" width="112" height="10" fill="#1d1d1f"/>
<rect x="404" y="343" width="56" height="5" fill="#242426"/>
<polygon points="493.8,334 519.6,334 519.6,338.6 511,344 493.8,344" fill="#232325"/>
<rect x="400" y="326" width="7.4" height="18" fill="#2a2c2e"/>
<rect x="400.6" y="314.6" width="6.4" height="12" fill="#b9bdc1"/>
<rect x="406.8" y="311.6" width="112.4" height="21.8" rx="1.6" fill="url(#tk)"/>
<path d="M408.6,313.8 H518" stroke="#222" stroke-width="1.4" stroke-dasharray="6.4 1.2"/>
<rect x="406.8" y="321.7" width="112.4" height="2.3" fill="#ee5c1e"/>
<path d="M407,319.6 H519 M407,326.4 H519" stroke="#dcdcdc" stroke-width=".5"/>
<circle cx="462" cy="322.4" r="4.1" fill="#f6f2f0"/><circle cx="462" cy="322.4" r="3.3" fill="none" stroke="#e25a48" stroke-width="1.1"/><circle cx="462" cy="322.4" r="1.4" fill="#e25a48"/>
<path d="M417.4,320.6 l2.6,-3.4 l3,.4 l-2,2.600000000000023 M423.6,320.8 l2.4,-3.2 l3.4,-.4 l-2.600000000000023,3" stroke="#d83226" stroke-width="1.1" fill="none"/>
<path d="M409,333.8 H518" stroke="#cc3a2c" stroke-width="1" stroke-dasharray="2.4 9.2"/>
<path d="M407,341.2 h7 v2 h-4.6 v4.400000000000034 h-2.4Z" fill="#f2c81a"/>
<rect x="421" y="341.5" width="7.6" height="2" fill="#f2c81a"/><rect x="435.6" y="341.5" width="6.6" height="2" fill="#f2c81a"/>
<rect x="421" y="345.3" width="7.6" height="2" fill="#e8be18"/><rect x="435.6" y="345.3" width="6.6" height="2" fill="#e8be18"/>
<path d="M449.6,341.5 h7.6 v5.8 h-7.6 v-2 h5.2 v-1.8 h-5.2Z" fill="#f2c81a"/>
<path d="M376,316.4 q0,-3.600000000000023 3.6,-3.8 h17.6 q2.8,0 2.8,2.8 v21 h-3 q-3,-4.6 -8.400000000000034,-4.6 q-6,0 -7.6,7 v6.6 h-4.6 q-1.2,-14 -0.4,-29Z" fill="#f5f5f5" stroke="#d0d0d0" stroke-width=".4"/>
<path d="M379.6,316 q0,-1.2 1.2,-1.2 h15.2 q1.2,0 1.2,1.2 v7 q0,1.2 -1.2,1.2 h-13 l-3.4,1.6Z" fill="#30363c"/>
<path d="M381,316 h10.4 v6.8 h-9 l-1.4,.8Z" fill="#c2cad2" opacity=".9"/>
<rect x="376.6" y="316.6" width="2" height="8.8" rx=".8" fill="#25272a"/>
<path d="M386,330.4 h4.4" stroke="#9a9a9a" stroke-width=".7"/>
<path d="M375.6,337 h4 v8.6 h-3.6Z" fill="#d8d8d8"/>
<rect x="375.8" y="339" width="1.6" height="3.4" fill="#e8d860"/>
<path d="M385,346 q0,-10.6 9.4,-10.6 q9.4,0 9.4,10.6Z" fill="#1c1c1e"/>
<path d="M457.6,340 q2,-4 10,-4.4 h18 q8,.4 10,4.4 v3 h-38Z" fill="#161618"/>
<circle cx="394.3" cy="345.9" r="7.2" fill="#171719"/><circle cx="394.3" cy="345.9" r="3.8" fill="#3f4145"/><circle cx="394.3" cy="345.9" r="1.7" fill="#1f1f21"/>
<circle cx="467.6" cy="346" r="7.2" fill="#171719"/><circle cx="467.6" cy="346" r="3.8" fill="#3f4145"/><circle cx="467.6" cy="346" r="1.7" fill="#1f1f21"/>
<circle cx="485.3" cy="346" r="7.2" fill="#171719"/><circle cx="485.3" cy="346" r="3.8" fill="#3f4145"/><circle cx="485.3" cy="346" r="1.7" fill="#1f1f21"/>
<rect x="516.8" y="335.4" width="2.6" height="3.6" fill="#dc3024"/>
<rect x="494.5" y="342.4" width="2.3" height="6.6" fill="#efefef"/>
<rect x="516.6" y="312" width="2.4" height="5" fill="#e8bcb4"/>
</g></g>
<g filter="url(#b3)" fill="none" stroke-linecap="round">
<path d="M509,356.2 Q519,354 528.6,357.2 Q539.6,361 543.6,368 Q546.4,374.6 538.4,382.2" stroke="#2b3320" stroke-width="2.6"/>
<path d="M509,356.2 Q519,354 528.6,357.2 Q537,360 540.6,364.6" stroke="#dcdcbc" stroke-width="1.5"/>
<path d="M516.6,359.6 Q520,367 524.4,370 Q529,373.6 533.4,376" stroke="#2b3320" stroke-width="2.2"/>
<path d="M516.6,359.6 Q520,367 524.4,370" stroke="#d8d8b4" stroke-width="1.1"/>
<path d="M508.6,355.4 l6,-1.400000000000034 l4.400000000000034,3.400000000000034 l-3.400000000000034,3 l-5,-1.2Z" fill="#cfcfaa" stroke="#5a6048" stroke-width=".6"/>
<path d="M533.4,376 Q537,379.6 538.4,382.2" stroke="#e4e4d0" stroke-width="1.2"/>
</g>
<g filter="url(#b3)" font-family="'Liberation Sans','Noto Sans CJK SC',sans-serif" fill="#1c1c1c">
<text x="85.9" y="171.1" font-size="6.3" textLength="37.6" lengthAdjust="spacingAndGlyphs">装车管理系统</text>
<text x="212.3" y="144.1" font-size="6.3" textLength="31.2" lengthAdjust="spacingAndGlyphs">串口服务器</text>
<text x="212.5" y="195.3" font-family="'Liberation Serif','Noto Serif CJK SC',serif" font-size="7.7" textLength="16.7" lengthAdjust="spacingAndGlyphs">RS485</text>
<text x="230" y="195.1" font-size="6.1" textLength="24.1" lengthAdjust="spacingAndGlyphs">或以太网</text>
<text x="181.4" y="226.5" font-size="5.9" textLength="17.5" lengthAdjust="spacingAndGlyphs">电气柜</text>
<text x="482.7" y="164" font-size="6.1" textLength="42.9" lengthAdjust="spacingAndGlyphs">静电溢油控制器</text>
<text x="381.6" y="241.6" font-size="6.2" textLength="43.1" lengthAdjust="spacingAndGlyphs">至油气回收管道</text>
<text x="425.3" y="264.4" font-family="'Liberation Serif','Noto Serif CJK SC',serif" font-size="7.8" textLength="19.5" lengthAdjust="spacingAndGlyphs">AL1412</text>
<text x="445.3" y="264.4" font-size="5.9" textLength="11.8" lengthAdjust="spacingAndGlyphs">鹤管</text>
<text x="502.2" y="292.8" font-size="5.9" textLength="23.3" lengthAdjust="spacingAndGlyphs">防溢开关</text>
<text x="493.8" y="382.6" font-size="6.2" textLength="24.8" lengthAdjust="spacingAndGlyphs">静电接地</text>
<text x="84.6" y="358.6" font-size="5.9" textLength="23.3" lengthAdjust="spacingAndGlyphs">油品储罐</text>
<text x="198.1" y="310.8" font-size="5.9" textLength="17.4" lengthAdjust="spacingAndGlyphs">手动阀</text>
<text x="187.8" y="358.4" font-size="5.8">泵</text>
<text x="272.3" y="313.8" font-size="6.3" textLength="31.6" lengthAdjust="spacingAndGlyphs">质量流量计</text>
<text x="335.5" y="313.8" font-size="6.3" textLength="31.6" lengthAdjust="spacingAndGlyphs">数控电液阀</text>
</g>
<text x="261.5" y="385.5" font-family="'Liberation Sans','Noto Sans CJK SC',sans-serif" font-size="12.1" fill="#0c0c0c" textLength="60.6" lengthAdjust="spacingAndGlyphs">定量装车仪</text>
<text x="249.5" y="403.9" font-family="Liberation Sans, sans-serif" font-size="15.1" fill="#0c0c0c" stroke="#0c0c0c" stroke-width=".28" textLength="82.6" lengthAdjust="spacingAndGlyphs">4008789055</text>
</svg>
</body></html>
